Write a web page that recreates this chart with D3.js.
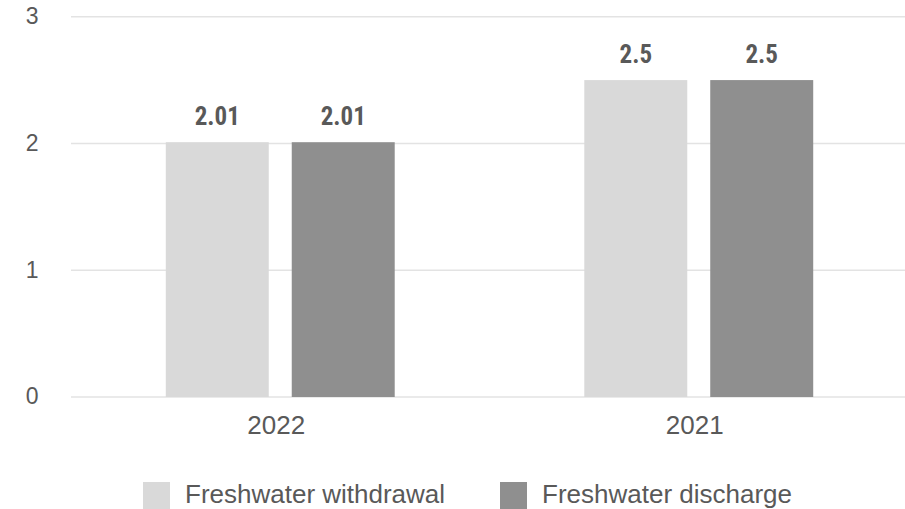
<!DOCTYPE html>
<html>
<head>
<meta charset="utf-8">
<script src="https://cdn.jsdelivr.net/npm/d3@7"></script>
<style>
  html, body { margin: 0; padding: 0; background: #ffffff; }
  svg { display: block; }
</style>
</head>
<body>
<svg id="chart" width="905" height="509"></svg>
<script>
// Freshwater volumes by reporting year
const years = ["2022", "2021"];
const seriesNames = ["Freshwater withdrawal", "Freshwater discharge"];
const withdrawal = [2.01, 2.5];
const discharge = [2.01, 2.5];
const yTicks = [0, 1, 2, 3];
const seriesColors = ["#d9d9d9", "#8f8f8f"];

const values = [withdrawal, discharge];
const rows = years.map((y, i) => ({
  year: y,
  items: seriesNames.map((s, j) => ({ series: s, value: values[j][i] }))
}));

const svg = d3.select("#chart");
const textColor = "#595959";

const x0 = d3.scaleBand()
  .domain(years)
  .range([71, 908])
  .paddingInner(0.453)
  .paddingOuter(0.2265);

const x1 = d3.scaleBand()
  .domain(seriesNames)
  .range([0, x0.bandwidth()])
  .paddingInner(0.1825);

const y = d3.scaleLinear()
  .domain([0, 3])
  .range([397, 16.7]);

const color = d3.scaleOrdinal().domain(seriesNames).range(seriesColors);

// Horizontal gridlines
svg.append("g")
  .selectAll("line")
  .data(yTicks)
  .join("line")
  .attr("x1", 71)
  .attr("x2", 905)
  .attr("y1", d => y(d))
  .attr("y2", d => y(d))
  .attr("stroke", "#e3e3e3")
  .attr("stroke-width", 1.5);

// Y axis tick labels
const yAxis = d3.axisLeft(y).tickValues(yTicks).tickFormat(d3.format("d")).tickSize(0).tickPadding(0);
const yg = svg.append("g").attr("transform", "translate(38.5,0)").call(yAxis);
yg.select(".domain").remove();
yg.selectAll("text")
  .attr("fill", textColor)
  .attr("font-family", "'Liberation Sans', Arial, sans-serif")
  .attr("font-size", 23)
  .attr("dy", "0.3em");

// Bars
const groups = svg.append("g")
  .selectAll("g")
  .data(rows)
  .join("g")
  .attr("transform", d => `translate(${x0(d.year)},0)`);

groups.selectAll("rect")
  .data(d => d.items)
  .join("rect")
  .attr("x", d => x1(d.series))
  .attr("y", d => y(d.value))
  .attr("width", x1.bandwidth())
  .attr("height", d => y(0) - y(d.value))
  .attr("fill", d => color(d.series));

// Value labels above bars
groups.selectAll("text")
  .data(d => d.items)
  .join("text")
  .attr("x", d => x1(d.series) + x1.bandwidth() / 2)
  .attr("y", d => y(d.value) - 17)
  .attr("text-anchor", "middle")
  .attr("fill", textColor)
  .attr("font-family", "'Liberation Sans Narrow', 'Arial Narrow', 'Roboto Condensed', sans-serif")
  .attr("font-stretch", "condensed")
  .attr("font-weight", "bold")
  .attr("font-size", 25)
  .text(d => d.value);

// Category axis labels
const xAxis = d3.axisBottom(x0).tickSize(0).tickPadding(0);
const xg = svg.append("g").attr("transform", "translate(0,434)").call(xAxis);
xg.select(".domain").remove();
xg.selectAll("text")
  .attr("fill", textColor)
  .attr("font-family", "'Liberation Sans', Arial, sans-serif")
  .attr("font-size", 26)
  .attr("dy", 0)
  .attr("dx", -4);

// Legend
const legendItems = [
  { name: seriesNames[0], x: 143 },
  { name: seriesNames[1], x: 500 }
];
const legend = svg.append("g")
  .selectAll("g")
  .data(legendItems)
  .join("g")
  .attr("transform", d => `translate(${d.x},482)`);

legend.append("rect")
  .attr("width", 27)
  .attr("height", 27)
  .attr("fill", d => color(d.name));

legend.append("text")
  .attr("x", 42)
  .attr("y", 21)
  .attr("fill", textColor)
  .attr("font-family", "'Liberation Sans', Arial, sans-serif")
  .attr("font-size", 26)
  .text(d => d.name);
</script>
</body>
</html>
